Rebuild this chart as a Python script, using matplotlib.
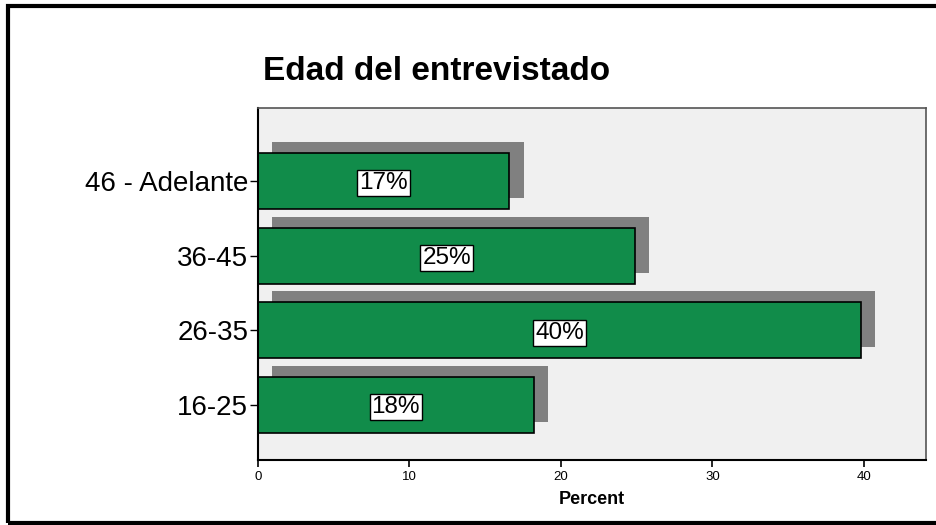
import matplotlib
matplotlib.use("Agg")
import matplotlib.pyplot as plt
import matplotlib.patches as patches
import numpy as np

plt.rcParams['font.family'] = ['Liberation Sans', 'DejaVu Sans']

categories = ['16-25', '26-35', '36-45', '46 - Adelante']
percent = [18.2, 39.8, 24.9, 16.6]
labels = ['18%', '40%', '25%', '17%']
xticks = [0, 10, 20, 30, 40]

fig = plt.figure(figsize=(9.37, 5.25), dpi=100)
ax = fig.add_axes([0.2753, 0.1238, 0.7130, 0.6705])
ax.set_facecolor('#f0f0f0')

y = np.arange(len(categories))
h = 0.75
# sombra desplazada detras de cada barra
ax.barh(y + 0.147, percent, height=h, left=0.93, color='#808080', zorder=1)
ax.barh(y, percent, height=h, color='#118c4a', edgecolor='black', linewidth=1.2, zorder=2)

for yi, v, lab in zip(y, percent, labels):
    ax.text(v / 2, yi - 0.03, lab, ha='center', va='center', fontsize=17.5, zorder=3,
            bbox=dict(boxstyle='square,pad=0.08', facecolor='white', edgecolor='black', linewidth=1))

ax.set_xlim(0, 44.1)
ax.set_ylim(-0.733, 3.973)
ax.set_yticks(y)
ax.set_yticklabels(categories, fontsize=20)
ax.set_xticks(xticks)
ax.set_xticklabels([str(t) for t in xticks], fontsize=9.5)
ax.tick_params(axis='y', length=6, width=1, pad=1)
ax.tick_params(axis='x', length=5, width=1.2, pad=3)
ax.set_xlabel('Percent', fontsize=13, fontweight='bold', labelpad=6)

for s in ['top', 'right']:
    ax.spines[s].set_color('#555555')
    ax.spines[s].set_linewidth(1.2)
for s in ['left', 'bottom']:
    ax.spines[s].set_color('black')
    ax.spines[s].set_linewidth(1.5)

fig.text(263 / 937, 1 - 72 / 525, 'Edad del entrevistado', fontsize=24, fontweight='bold',
         ha='left', va='center')

# marco exterior
frame = patches.Rectangle((8 / 937, 1 - 523 / 525), 1.0, (523 - 6) / 525,
                          transform=fig.transFigure, fill=False, edgecolor='black',
                          linewidth=3, clip_on=False)
fig.patches.append(frame)

fig.savefig('out.png', dpi=100)
